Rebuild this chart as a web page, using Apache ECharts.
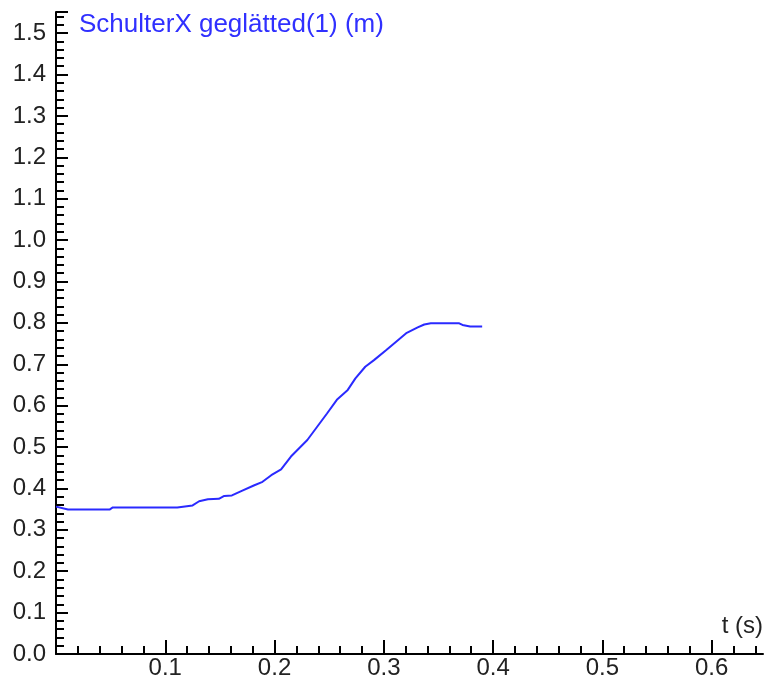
<!DOCTYPE html>
<html>
<head>
<meta charset="utf-8">
<script src="https://cdn.jsdelivr.net/npm/echarts@6/dist/echarts.min.js"></script>
<style>html,body{margin:0;padding:0;background:#fff}#c{width:768px;height:688px}</style>
</head>
<body>
<div id="c"></div>
<script>
// time (s)
const tValues = [0, 0.011, 0.049, 0.052, 0.111, 0.125, 0.131, 0.139, 0.149, 0.154, 0.161, 0.169, 0.181, 0.189, 0.197, 0.206, 0.215, 0.230, 0.239, 0.248, 0.257, 0.267, 0.274, 0.283, 0.291, 0.302, 0.311, 0.321, 0.331, 0.337, 0.343, 0.369, 0.372, 0.379, 0.390];
// SchulterX geglättet (m)
const xValues = [0.356, 0.349, 0.349, 0.354, 0.354, 0.359, 0.369, 0.374, 0.375, 0.382, 0.383, 0.393, 0.407, 0.416, 0.432, 0.446, 0.477, 0.517, 0.549, 0.581, 0.614, 0.638, 0.666, 0.694, 0.710, 0.734, 0.754, 0.776, 0.789, 0.796, 0.799, 0.799, 0.795, 0.791, 0.791];
const xTickLabels = [0.1, 0.2, 0.3, 0.4, 0.5, 0.6];
const yTickLabels = [0, 0.1, 0.2, 0.3, 0.4, 0.5, 0.6, 0.7, 0.8, 0.9, 1.0, 1.1, 1.2, 1.3, 1.4, 1.5];

const X_MAX = 0.647, Y_MAX = 1.551;
const FONT = 'Liberation Sans, Arial, sans-serif';

function minorList(max, step, majorStep) {
  const out = [];
  for (let i = 1; i * step <= max + 1e-9; i++) {
    const v = +(i * step).toFixed(4);
    if (Math.abs(v / majorStep - Math.round(v / majorStep)) > 1e-6) out.push(v);
  }
  return out;
}
const xMinor = minorList(X_MAX, 0.02, 0.1);
const yMinor = minorList(Y_MAX, 0.02, 0.1);

const data = tValues.map((t, i) => [t, xValues[i]]);

const chart = echarts.init(document.getElementById('c'), null, {renderer: 'canvas'});
chart.setOption({
  animation: false,
  backgroundColor: '#fff',
  title: {
    text: 'SchulterX geglätted(1) (m)',
    left: 79, top: 12, padding: 0,
    textStyle: {color: '#3030ff', fontSize: 26, fontWeight: 'normal', fontFamily: FONT}
  },
  grid: {left: 56, right: 5, top: 12, bottom: 34},
  xAxis: [{
    type: 'value', min: 0, max: X_MAX,
    name: 't (s)', nameLocation: 'end', nameGap: 0,
    nameTextStyle: {color: '#222', fontSize: 24, fontFamily: FONT, align: 'right', verticalAlign: 'bottom', padding: [0, 0, 16, 0]},
    axisLine: {show: true, lineStyle: {color: '#000', width: 2}},
    axisTick: {show: true, inside: true, length: 14, lineStyle: {color: '#000', width: 2}, customValues: xTickLabels},
    axisLabel: {color: '#222', fontSize: 24, fontFamily: FONT, margin: 2, customValues: xTickLabels, formatter: v => v.toFixed(1)},
    splitLine: {show: false}
  }, {
    type: 'value', min: 0, max: X_MAX, position: 'bottom',
    axisLine: {show: false},
    axisTick: {show: true, inside: true, length: 8, lineStyle: {color: '#000', width: 2}, customValues: xMinor},
    axisLabel: {show: false},
    splitLine: {show: false}
  }],
  yAxis: [{
    type: 'value', min: 0, max: Y_MAX,
    axisLine: {show: true, lineStyle: {color: '#000', width: 2}},
    axisTick: {show: true, inside: true, length: 12, lineStyle: {color: '#000', width: 2}, customValues: yTickLabels.concat([Y_MAX])},
    axisLabel: {color: '#222', fontSize: 24, fontFamily: FONT, margin: 10, customValues: yTickLabels, formatter: v => v.toFixed(1)},
    splitLine: {show: false}
  }, {
    type: 'value', min: 0, max: Y_MAX, position: 'left',
    axisLine: {show: false},
    axisTick: {show: true, inside: true, length: 8, lineStyle: {color: '#000', width: 2}, customValues: yMinor},
    axisLabel: {show: false},
    splitLine: {show: false}
  }],
  series: [{
    type: 'line', xAxisIndex: 0, yAxisIndex: 0,
    data: data, showSymbol: false, smooth: false,
    lineStyle: {color: '#2a2aff', width: 2}
  }]
});
</script>
</body>
</html>
